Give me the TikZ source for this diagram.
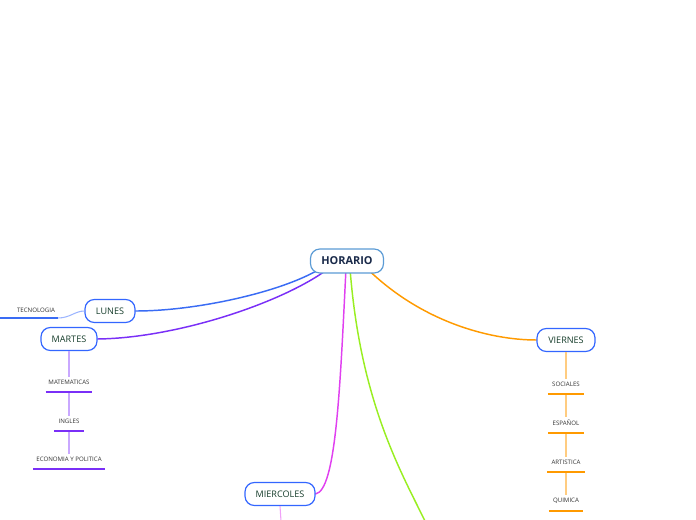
\documentclass[tikz,border=0pt]{standalone}
\usepackage{fontspec}
\setmainfont{Open Sans}
\pgfdeclarelayer{background}
\pgfsetlayers{background,main}
\begin{document}
\begin{tikzpicture}[x=0.75pt,y=-0.75pt,
  rootbox/.style={draw=rootblue,line width=0.9pt,rounded corners=7pt,fill=white,minimum width=54.75pt,minimum height=18pt,inner sep=0pt,font=\fontsize{8.2}{9}\selectfont\bfseries,text=navytext},
  daybox/.style={draw=dayblue,line width=0.9pt,rounded corners=7pt,fill=white,minimum height=17.25pt,inner sep=0pt,font=\fontsize{6.8}{8}\selectfont,text=greentext},
  leaf/.style={inner sep=0pt,font=\fontsize{4.6}{5}\selectfont,text=leaftext},
  branch/.style={line width=1.1pt,line cap=round},
  uline/.style={line width=1.5pt},
  stem/.style={line width=0.8pt}
]
\definecolor{rootblue}{HTML}{5B9BD5}
\definecolor{dayblue}{HTML}{3366FF}
\definecolor{navytext}{HTML}{1A2A4A}
\definecolor{greentext}{HTML}{163D2B}
\definecolor{leaftext}{HTML}{333333}
\definecolor{cblue}{HTML}{3A6CF4}
\definecolor{cpurple}{HTML}{7A2FF7}
\definecolor{cmagenta}{HTML}{E040F0}
\definecolor{cgreen}{HTML}{99EE22}
\definecolor{corange}{HTML}{FF9A00}
\definecolor{lpurple}{HTML}{C9A8FF}
\definecolor{lorange}{HTML}{FFCC80}
\definecolor{lmagenta}{HTML}{F0A0F8}
\definecolor{lblue}{HTML}{9DB6FF}
\useasboundingbox (0,0) rectangle (696,520);

% coordinates
\coordinate (greenend) at (425,521);
\coordinate (mierend) at (281,521);
\coordinate (tecl) at (0,318);
\coordinate (tecr) at (58,318);

% nodes
\node[rootbox] (root) at (347,261) {HORARIO};
\node[daybox,minimum width=37.5pt] (lunes) at (110,311) {LUNES};
\node[daybox,minimum width=42pt] (martes) at (69,339) {MARTES};
\node[daybox,minimum width=43.5pt] (viernes) at (566,340) {VIERNES};
\node[daybox,minimum width=52.5pt] (mierc) at (280,494) {MIERCOLES};

% leaves
\node[leaf] (tec) at (36,310) {TECNOLOGIA};
\node[leaf] (mat) at (69,382) {MATEMATICAS};
\node[leaf] (ing) at (69,421) {INGLES};
\node[leaf] (eco) at (69,459) {ECONOMIA Y POLITICA};
\node[leaf] (soc) at (566,384) {SOCIALES};
\node[leaf] (esp) at (566,423) {ESPAÑOL};
\node[leaf] (art) at (566,462) {ARTISTICA};
\node[leaf] (qui) at (566,501) {QUIMICA};

% main branches behind the boxes
\begin{pgfonlayer}{background}
\draw[branch,cblue] ([xshift=-16.5pt,yshift=6pt]root.south) .. controls (290,290) and (200,311) .. (lunes.east);
\draw[branch,cpurple] ([xshift=-11pt,yshift=6pt]root.south) .. controls (290,300) and (180,338) .. (martes.east);
\draw[branch,cmagenta] ([xshift=-0.75pt,yshift=4pt]root.south) .. controls (340,390) and (336,490) .. (mierc.east);
\draw[branch,cgreen] ([xshift=2.25pt,yshift=4pt]root.south) .. controls (360,400) and (400,470) .. (greenend);
\draw[branch,corange] ([xshift=12.75pt,yshift=6pt]root.south) .. controls (420,322) and (490,340) .. (viernes.west);
\end{pgfonlayer}

% LUNES child
\draw[stem,lblue] (lunes.west) .. controls (75,311) and (70,318) .. (tecr);
\draw[uline,cblue] (tecl) -- (tecr);

% MARTES children
\draw[stem,lpurple] (martes.south) -- ([yshift=2pt]mat.north);
\draw[stem,lpurple] ([yshift=-5.5pt]mat.south) -- ([yshift=2pt]ing.north);
\draw[stem,lpurple] ([yshift=-5.5pt]ing.south) -- ([yshift=2pt]eco.north);
\draw[uline,cpurple] ([yshift=-5.25pt,xshift=-2pt]mat.south west) -- ([yshift=-5.25pt,xshift=2pt]mat.south east);
\draw[uline,cpurple] ([yshift=-5.25pt,xshift=-3pt]ing.south west) -- ([yshift=-5.25pt,xshift=3pt]ing.south east);
\draw[uline,cpurple] ([yshift=-5.25pt,xshift=-2pt]eco.south west) -- ([yshift=-5.25pt,xshift=2pt]eco.south east);

% VIERNES children
\draw[stem,lorange] (viernes.south) -- ([yshift=2pt]soc.north);
\draw[stem,lorange] ([yshift=-5.5pt]soc.south) -- ([yshift=2pt]esp.north);
\draw[stem,lorange] ([yshift=-5.5pt]esp.south) -- ([yshift=2pt]art.north);
\draw[stem,lorange] ([yshift=-5.5pt]art.south) -- ([yshift=2pt]qui.north);
\draw[uline,corange] ([yshift=-5.25pt,xshift=-3pt]soc.south west) -- ([yshift=-5.25pt,xshift=3pt]soc.south east);
\draw[uline,corange] ([yshift=-5.25pt,xshift=-3pt]esp.south west) -- ([yshift=-5.25pt,xshift=3pt]esp.south east);
\draw[uline,corange] ([yshift=-5.25pt,xshift=-3pt]art.south west) -- ([yshift=-5.25pt,xshift=3pt]art.south east);
\draw[uline,corange] ([yshift=-5.25pt,xshift=-3pt]qui.south west) -- ([yshift=-5.25pt,xshift=3pt]qui.south east);

% MIERCOLES child stub
\draw[stem,lmagenta] (mierc.south) -- (mierend);
\end{tikzpicture}
\end{document}
